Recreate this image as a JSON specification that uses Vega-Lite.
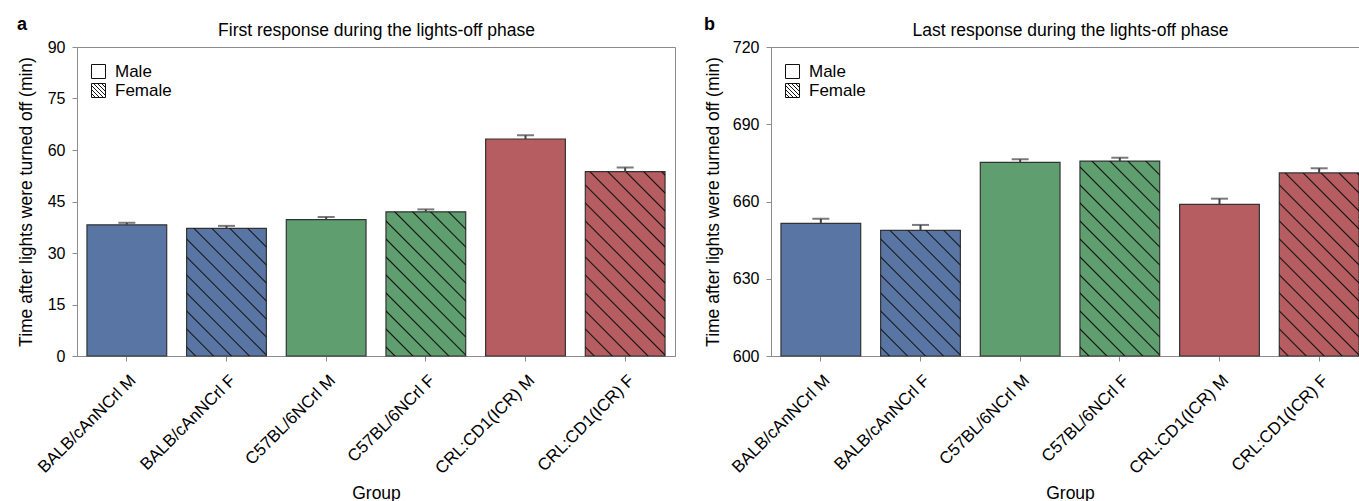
{
"$schema": "https://vega.github.io/schema/vega-lite/v6.json",
"autosize": {"type": "pad"},
"padding": {"left": 16, "top": 15, "right": 0, "bottom": 0},
"datasets": {
"first": [
{"group": "BALB/cAnNCrl M", "strain": "BALB/cAnNCrl", "sex": "Male", "value": 38.2, "upper": 38.8},
{"group": "BALB/cAnNCrl F", "strain": "BALB/cAnNCrl", "sex": "Female", "value": 37.2, "upper": 37.9},
{"group": "C57BL/6NCrl M", "strain": "C57BL/6NCrl", "sex": "Male", "value": 39.7, "upper": 40.5},
{"group": "C57BL/6NCrl F", "strain": "C57BL/6NCrl", "sex": "Female", "value": 42.0, "upper": 42.7},
{"group": "CRL:CD1(ICR) M", "strain": "CRL:CD1(ICR)", "sex": "Male", "value": 63.2, "upper": 64.3},
{"group": "CRL:CD1(ICR) F", "strain": "CRL:CD1(ICR)", "sex": "Female", "value": 53.7, "upper": 54.9}
],
"last": [
{"group": "BALB/cAnNCrl M", "strain": "BALB/cAnNCrl", "sex": "Male", "value": 651.5, "upper": 653.3},
{"group": "BALB/cAnNCrl F", "strain": "BALB/cAnNCrl", "sex": "Female", "value": 648.8, "upper": 650.9},
{"group": "C57BL/6NCrl M", "strain": "C57BL/6NCrl", "sex": "Male", "value": 675.2, "upper": 676.4},
{"group": "C57BL/6NCrl F", "strain": "C57BL/6NCrl", "sex": "Female", "value": 675.7, "upper": 677.0},
{"group": "CRL:CD1(ICR) M", "strain": "CRL:CD1(ICR)", "sex": "Male", "value": 658.9, "upper": 661.1},
{"group": "CRL:CD1(ICR) F", "strain": "CRL:CD1(ICR)", "sex": "Female", "value": 671.1, "upper": 672.9}
]
},
"bounds": "flush",
"spacing": 96,
"resolve": {"scale": {"x": "independent", "y": "independent", "fill": "independent", "shape": "independent"}, "legend": {"shape": "independent"}},
"hconcat": [
{
"width": 598, "height": 309,
"title": {"text": "a"},
"data": {"name": "first"},
"resolve": {"axis": {"x": "independent"}},
"layer": [
{
"mark": {"type": "bar", "strokeWidth": 1.2, "stroke": "#333333"},
"encoding": {
"x": {"field": "group", "type": "nominal", "sort": ["BALB/cAnNCrl M","BALB/cAnNCrl F","C57BL/6NCrl M","C57BL/6NCrl F","CRL:CD1(ICR) M","CRL:CD1(ICR) F"], "scale": {"paddingInner": 0.2, "paddingOuter": 0.1}, "title": "Group",
 "axis": {"orient": "bottom", "labelAngle": -45, "labelAlign": "right", "labelBaseline": "middle", "labelPadding": 16.5, "labelOffset": 6.5, "labelFontSize": 17, "labelOverlap": false, "titlePadding": 8}},
"y": {"field": "value", "type": "quantitative", "scale": {"domain": [0, 90], "nice": false}, "title": "Time after lights were turned off (min)",
 "axis": {"values": [0, 15, 30, 45, 60, 75, 90], "labelPadding": 7, "titleX": -42}},
"fill": {"field": "strain", "type": "nominal", "scale": {"domain": ["BALB/cAnNCrl", "C57BL/6NCrl", "CRL:CD1(ICR)"], "range": ["#5975a4", "#5f9e6e", "#b55d60"]}, "legend": null}
}
},
{
"transform": [{"filter": "datum.group === 'BALB/cAnNCrl F'"}],
"mark": {"type": "bar", "strokeWidth": 0, "fill": {"gradient": "linear", "x1": 0, "y1": 1, "x2": 0.73166, "y2": -0.16809, "stops": [
{"offset":0.03611,"color":"rgba(17,17,17,0)"},{"offset":0.04333,"color":"#111111"},{"offset":0.05055,"color":"rgba(17,17,17,0)"},
{"offset":0.12276,"color":"rgba(17,17,17,0)"},{"offset":0.12998,"color":"#111111"},{"offset":0.1372,"color":"rgba(17,17,17,0)"},
{"offset":0.20942,"color":"rgba(17,17,17,0)"},{"offset":0.21664,"color":"#111111"},{"offset":0.22386,"color":"rgba(17,17,17,0)"},
{"offset":0.29607,"color":"rgba(17,17,17,0)"},{"offset":0.30329,"color":"#111111"},{"offset":0.31051,"color":"rgba(17,17,17,0)"},
{"offset":0.38273,"color":"rgba(17,17,17,0)"},{"offset":0.38995,"color":"#111111"},{"offset":0.39717,"color":"rgba(17,17,17,0)"},
{"offset":0.46938,"color":"rgba(17,17,17,0)"},{"offset":0.4766,"color":"#111111"},{"offset":0.48383,"color":"rgba(17,17,17,0)"},
{"offset":0.55604,"color":"rgba(17,17,17,0)"},{"offset":0.56326,"color":"#111111"},{"offset":0.57048,"color":"rgba(17,17,17,0)"},
{"offset":0.6427,"color":"rgba(17,17,17,0)"},{"offset":0.64992,"color":"#111111"},{"offset":0.65714,"color":"rgba(17,17,17,0)"},
{"offset":0.72935,"color":"rgba(17,17,17,0)"},{"offset":0.73657,"color":"#111111"},{"offset":0.74379,"color":"rgba(17,17,17,0)"},
{"offset":0.81601,"color":"rgba(17,17,17,0)"},{"offset":0.82323,"color":"#111111"},{"offset":0.83045,"color":"rgba(17,17,17,0)"},
{"offset":0.90266,"color":"rgba(17,17,17,0)"},{"offset":0.90988,"color":"#111111"},{"offset":0.9171,"color":"rgba(17,17,17,0)"}]}},
"encoding": {
"x": {"field": "group", "type": "nominal", "sort": ["BALB/cAnNCrl M","BALB/cAnNCrl F","C57BL/6NCrl M","C57BL/6NCrl F","CRL:CD1(ICR) M","CRL:CD1(ICR) F"], "axis": null},
"y": {"field": "value", "type": "quantitative", "scale": {"domain": [0, 90], "nice": false}, "title": "Time after lights were turned off (min)", "axis": {"values": [0, 15, 30, 45, 60, 75, 90], "labelPadding": 7, "titleX": -42}}
}
},
{
"transform": [{"filter": "datum.group === 'C57BL/6NCrl F'"}],
"mark": {"type": "bar", "strokeWidth": 0, "fill": {"gradient": "linear", "x1": 0, "y1": 1, "x2": 0.65957, "y2": -0.18887, "stops": [
{"offset":0.03345,"color":"rgba(17,17,17,0)"},{"offset":0.04014,"color":"#111111"},{"offset":0.04683,"color":"rgba(17,17,17,0)"},
{"offset":0.11374,"color":"rgba(17,17,17,0)"},{"offset":0.12043,"color":"#111111"},{"offset":0.12712,"color":"rgba(17,17,17,0)"},
{"offset":0.19402,"color":"rgba(17,17,17,0)"},{"offset":0.20071,"color":"#111111"},{"offset":0.2074,"color":"rgba(17,17,17,0)"},
{"offset":0.27431,"color":"rgba(17,17,17,0)"},{"offset":0.281,"color":"#111111"},{"offset":0.28769,"color":"rgba(17,17,17,0)"},
{"offset":0.35459,"color":"rgba(17,17,17,0)"},{"offset":0.36128,"color":"#111111"},{"offset":0.36798,"color":"rgba(17,17,17,0)"},
{"offset":0.43488,"color":"rgba(17,17,17,0)"},{"offset":0.44157,"color":"#111111"},{"offset":0.44826,"color":"rgba(17,17,17,0)"},
{"offset":0.51516,"color":"rgba(17,17,17,0)"},{"offset":0.52186,"color":"#111111"},{"offset":0.52855,"color":"rgba(17,17,17,0)"},
{"offset":0.59545,"color":"rgba(17,17,17,0)"},{"offset":0.60214,"color":"#111111"},{"offset":0.60883,"color":"rgba(17,17,17,0)"},
{"offset":0.67574,"color":"rgba(17,17,17,0)"},{"offset":0.68243,"color":"#111111"},{"offset":0.68912,"color":"rgba(17,17,17,0)"},
{"offset":0.75602,"color":"rgba(17,17,17,0)"},{"offset":0.76271,"color":"#111111"},{"offset":0.7694,"color":"rgba(17,17,17,0)"},
{"offset":0.83631,"color":"rgba(17,17,17,0)"},{"offset":0.843,"color":"#111111"},{"offset":0.84969,"color":"rgba(17,17,17,0)"},
{"offset":0.91659,"color":"rgba(17,17,17,0)"},{"offset":0.92328,"color":"#111111"},{"offset":0.92997,"color":"rgba(17,17,17,0)"}]}},
"encoding": {
"x": {"field": "group", "type": "nominal", "sort": ["BALB/cAnNCrl M","BALB/cAnNCrl F","C57BL/6NCrl M","C57BL/6NCrl F","CRL:CD1(ICR) M","CRL:CD1(ICR) F"], "axis": null},
"y": {"field": "value", "type": "quantitative", "scale": {"domain": [0, 90], "nice": false}, "title": "Time after lights were turned off (min)", "axis": {"values": [0, 15, 30, 45, 60, 75, 90], "labelPadding": 7, "titleX": -42}}
}
},
{
"transform": [{"filter": "datum.group === 'CRL:CD1(ICR) F'"}],
"mark": {"type": "bar", "strokeWidth": 0, "fill": {"gradient": "linear", "x1": 0, "y1": 1, "x2": 0.52361, "y2": -0.20672, "stops": [
{"offset":0.02837,"color":"rgba(17,17,17,0)"},{"offset":0.03404,"color":"#111111"},{"offset":0.03972,"color":"rgba(17,17,17,0)"},
{"offset":0.09646,"color":"rgba(17,17,17,0)"},{"offset":0.10213,"color":"#111111"},{"offset":0.10781,"color":"rgba(17,17,17,0)"},
{"offset":0.16454,"color":"rgba(17,17,17,0)"},{"offset":0.17022,"color":"#111111"},{"offset":0.17589,"color":"rgba(17,17,17,0)"},
{"offset":0.23263,"color":"rgba(17,17,17,0)"},{"offset":0.23831,"color":"#111111"},{"offset":0.24398,"color":"rgba(17,17,17,0)"},
{"offset":0.30072,"color":"rgba(17,17,17,0)"},{"offset":0.30639,"color":"#111111"},{"offset":0.31207,"color":"rgba(17,17,17,0)"},
{"offset":0.36881,"color":"rgba(17,17,17,0)"},{"offset":0.37448,"color":"#111111"},{"offset":0.38015,"color":"rgba(17,17,17,0)"},
{"offset":0.43689,"color":"rgba(17,17,17,0)"},{"offset":0.44257,"color":"#111111"},{"offset":0.44824,"color":"rgba(17,17,17,0)"},
{"offset":0.50498,"color":"rgba(17,17,17,0)"},{"offset":0.51065,"color":"#111111"},{"offset":0.51633,"color":"rgba(17,17,17,0)"},
{"offset":0.57307,"color":"rgba(17,17,17,0)"},{"offset":0.57874,"color":"#111111"},{"offset":0.58441,"color":"rgba(17,17,17,0)"},
{"offset":0.64115,"color":"rgba(17,17,17,0)"},{"offset":0.64683,"color":"#111111"},{"offset":0.6525,"color":"rgba(17,17,17,0)"},
{"offset":0.70924,"color":"rgba(17,17,17,0)"},{"offset":0.71491,"color":"#111111"},{"offset":0.72059,"color":"rgba(17,17,17,0)"},
{"offset":0.77733,"color":"rgba(17,17,17,0)"},{"offset":0.783,"color":"#111111"},{"offset":0.78868,"color":"rgba(17,17,17,0)"},
{"offset":0.84541,"color":"rgba(17,17,17,0)"},{"offset":0.85109,"color":"#111111"},{"offset":0.85676,"color":"rgba(17,17,17,0)"},
{"offset":0.9135,"color":"rgba(17,17,17,0)"},{"offset":0.91918,"color":"#111111"},{"offset":0.92485,"color":"rgba(17,17,17,0)"},
{"offset":0.98159,"color":"rgba(17,17,17,0)"},{"offset":0.98726,"color":"#111111"},{"offset":0.99294,"color":"rgba(17,17,17,0)"}]}},
"encoding": {
"x": {"field": "group", "type": "nominal", "sort": ["BALB/cAnNCrl M","BALB/cAnNCrl F","C57BL/6NCrl M","C57BL/6NCrl F","CRL:CD1(ICR) M","CRL:CD1(ICR) F"], "axis": null},
"y": {"field": "value", "type": "quantitative", "scale": {"domain": [0, 90], "nice": false}, "title": "Time after lights were turned off (min)", "axis": {"values": [0, 15, 30, 45, 60, 75, 90], "labelPadding": 7, "titleX": -42}}
}
},
{
"mark": {"type": "rule", "strokeWidth": 2, "color": "#424242"},
"encoding": {
"x": {"field": "group", "type": "nominal", "sort": ["BALB/cAnNCrl M","BALB/cAnNCrl F","C57BL/6NCrl M","C57BL/6NCrl F","CRL:CD1(ICR) M","CRL:CD1(ICR) F"], "title": "First response during the lights-off phase",
 "axis": {"orient": "top", "labels": false, "ticks": false, "domain": false, "titlePadding": 8}},
"y": {"field": "value", "type": "quantitative", "scale": {"domain": [0, 90], "nice": false}, "title": "Time after lights were turned off (min)", "axis": {"values": [0, 15, 30, 45, 60, 75, 90], "labelPadding": 7, "titleX": -42}},
"y2": {"field": "upper"}
}
},
{
"mark": {"type": "tick", "thickness": 2, "size": 17, "color": "#424242"},
"encoding": {
"x": {"field": "group", "type": "nominal", "sort": ["BALB/cAnNCrl M","BALB/cAnNCrl F","C57BL/6NCrl M","C57BL/6NCrl F","CRL:CD1(ICR) M","CRL:CD1(ICR) F"], "axis": null},
"y": {"field": "upper", "type": "quantitative", "scale": {"domain": [0, 90], "nice": false}, "title": "Time after lights were turned off (min)", "axis": {"values": [0, 15, 30, 45, 60, 75, 90], "labelPadding": 7, "titleX": -42}}
}
},
{
"mark": {"type": "point", "opacity": 0, "filled": false, "color": "#111111", "size": 4},
"encoding": {
"x": {"field": "group", "type": "nominal", "sort": ["BALB/cAnNCrl M","BALB/cAnNCrl F","C57BL/6NCrl M","C57BL/6NCrl F","CRL:CD1(ICR) M","CRL:CD1(ICR) F"], "axis": null},
"y": {"field": "value", "type": "quantitative", "scale": {"domain": [0, 90], "nice": false}, "title": "Time after lights were turned off (min)", "axis": {"values": [0, 15, 30, 45, 60, 75, 90], "labelPadding": 7, "titleX": -42}},
"shape": {"field": "sex", "type": "nominal", "scale": {"domain": ["Male", "Female"], "range": ["square", "M-1,-1H1V1H-1Z M-1,0.43L-0.43,1 M-1,-0.14L0.14,1 M-1,-0.71L0.71,1 M-0.71,-1L1,0.71 M-0.14,-1L1,0.14 M0.43,-1L1,-0.43"]},
 "legend": {"orient": "none", "legendX": 13, "legendY": 16, "title": null, "padding": 0, "symbolSize": 196, "symbolStrokeColor": "#111111", "symbolStrokeWidth": 1, "symbolOpacity": 1, "symbolFillColor": "#ffffff", "labelFontSize": 17, "rowPadding": 0, "labelOffset": 8}}
}
}
]
},
{
"width": 598, "height": 309,
"title": {"text": "b"},
"data": {"name": "last"},
"resolve": {"axis": {"x": "independent"}},
"layer": [
{
"mark": {"type": "bar", "strokeWidth": 1.2, "stroke": "#333333"},
"encoding": {
"x": {"field": "group", "type": "nominal", "sort": ["BALB/cAnNCrl M","BALB/cAnNCrl F","C57BL/6NCrl M","C57BL/6NCrl F","CRL:CD1(ICR) M","CRL:CD1(ICR) F"], "scale": {"paddingInner": 0.2, "paddingOuter": 0.1}, "title": "Group",
 "axis": {"orient": "bottom", "labelAngle": -45, "labelAlign": "right", "labelBaseline": "middle", "labelPadding": 16.5, "labelOffset": 6.5, "labelFontSize": 17, "labelOverlap": false, "titlePadding": 8}},
"y": {"field": "value", "type": "quantitative", "scale": {"domain": [600, 720], "nice": false, "zero": false}, "title": "Time after lights were turned off (min)",
 "axis": {"values": [600, 630, 660, 690, 720], "labelPadding": 7, "titleX": -49}},
"y2": {"datum": 600},
"fill": {"field": "strain", "type": "nominal", "scale": {"domain": ["BALB/cAnNCrl", "C57BL/6NCrl", "CRL:CD1(ICR)"], "range": ["#5975a4", "#5f9e6e", "#b55d60"]}, "legend": null}
}
},
{
"transform": [{"filter": "datum.group === 'BALB/cAnNCrl F'"}],
"mark": {"type": "bar", "strokeWidth": 0, "fill": {"gradient": "linear", "x1": 0, "y1": 1, "x2": 0.74144, "y2": -0.16462, "stops": [
{"offset":0.03647,"color":"rgba(17,17,17,0)"},{"offset":0.04376,"color":"#111111"},{"offset":0.05106,"color":"rgba(17,17,17,0)"},
{"offset":0.12399,"color":"rgba(17,17,17,0)"},{"offset":0.13128,"color":"#111111"},{"offset":0.13858,"color":"rgba(17,17,17,0)"},
{"offset":0.21151,"color":"rgba(17,17,17,0)"},{"offset":0.21881,"color":"#111111"},{"offset":0.2261,"color":"rgba(17,17,17,0)"},
{"offset":0.29904,"color":"rgba(17,17,17,0)"},{"offset":0.30633,"color":"#111111"},{"offset":0.31362,"color":"rgba(17,17,17,0)"},
{"offset":0.38656,"color":"rgba(17,17,17,0)"},{"offset":0.39385,"color":"#111111"},{"offset":0.40115,"color":"rgba(17,17,17,0)"},
{"offset":0.47408,"color":"rgba(17,17,17,0)"},{"offset":0.48138,"color":"#111111"},{"offset":0.48867,"color":"rgba(17,17,17,0)"},
{"offset":0.56161,"color":"rgba(17,17,17,0)"},{"offset":0.5689,"color":"#111111"},{"offset":0.57619,"color":"rgba(17,17,17,0)"},
{"offset":0.64913,"color":"rgba(17,17,17,0)"},{"offset":0.65642,"color":"#111111"},{"offset":0.66372,"color":"rgba(17,17,17,0)"},
{"offset":0.73665,"color":"rgba(17,17,17,0)"},{"offset":0.74395,"color":"#111111"},{"offset":0.75124,"color":"rgba(17,17,17,0)"},
{"offset":0.82418,"color":"rgba(17,17,17,0)"},{"offset":0.83147,"color":"#111111"},{"offset":0.83876,"color":"rgba(17,17,17,0)"},
{"offset":0.9117,"color":"rgba(17,17,17,0)"},{"offset":0.91899,"color":"#111111"},{"offset":0.92629,"color":"rgba(17,17,17,0)"}]}},
"encoding": {
"x": {"field": "group", "type": "nominal", "sort": ["BALB/cAnNCrl M","BALB/cAnNCrl F","C57BL/6NCrl M","C57BL/6NCrl F","CRL:CD1(ICR) M","CRL:CD1(ICR) F"], "axis": null},
"y": {"field": "value", "type": "quantitative", "scale": {"domain": [600, 720], "nice": false, "zero": false}, "title": "Time after lights were turned off (min)", "axis": {"values": [600, 630, 660, 690, 720], "labelPadding": 7, "titleX": -49}},
"y2": {"datum": 600}
}
},
{
"transform": [{"filter": "datum.group === 'C57BL/6NCrl F'"}],
"mark": {"type": "bar", "strokeWidth": 0, "fill": {"gradient": "linear", "x1": 0, "y1": 1, "x2": 0.4954, "y2": -0.2071, "stops": [
{"offset":0.02728,"color":"rgba(17,17,17,0)"},{"offset":0.03274,"color":"#111111"},{"offset":0.03819,"color":"rgba(17,17,17,0)"},
{"offset":0.09275,"color":"rgba(17,17,17,0)"},{"offset":0.09821,"color":"#111111"},{"offset":0.10366,"color":"rgba(17,17,17,0)"},
{"offset":0.15822,"color":"rgba(17,17,17,0)"},{"offset":0.16368,"color":"#111111"},{"offset":0.16913,"color":"rgba(17,17,17,0)"},
{"offset":0.22369,"color":"rgba(17,17,17,0)"},{"offset":0.22915,"color":"#111111"},{"offset":0.23461,"color":"rgba(17,17,17,0)"},
{"offset":0.28916,"color":"rgba(17,17,17,0)"},{"offset":0.29462,"color":"#111111"},{"offset":0.30008,"color":"rgba(17,17,17,0)"},
{"offset":0.35464,"color":"rgba(17,17,17,0)"},{"offset":0.36009,"color":"#111111"},{"offset":0.36555,"color":"rgba(17,17,17,0)"},
{"offset":0.42011,"color":"rgba(17,17,17,0)"},{"offset":0.42556,"color":"#111111"},{"offset":0.43102,"color":"rgba(17,17,17,0)"},
{"offset":0.48558,"color":"rgba(17,17,17,0)"},{"offset":0.49103,"color":"#111111"},{"offset":0.49649,"color":"rgba(17,17,17,0)"},
{"offset":0.55105,"color":"rgba(17,17,17,0)"},{"offset":0.5565,"color":"#111111"},{"offset":0.56196,"color":"rgba(17,17,17,0)"},
{"offset":0.61652,"color":"rgba(17,17,17,0)"},{"offset":0.62198,"color":"#111111"},{"offset":0.62743,"color":"rgba(17,17,17,0)"},
{"offset":0.68199,"color":"rgba(17,17,17,0)"},{"offset":0.68745,"color":"#111111"},{"offset":0.6929,"color":"rgba(17,17,17,0)"},
{"offset":0.74746,"color":"rgba(17,17,17,0)"},{"offset":0.75292,"color":"#111111"},{"offset":0.75837,"color":"rgba(17,17,17,0)"},
{"offset":0.81293,"color":"rgba(17,17,17,0)"},{"offset":0.81839,"color":"#111111"},{"offset":0.82384,"color":"rgba(17,17,17,0)"},
{"offset":0.8784,"color":"rgba(17,17,17,0)"},{"offset":0.88386,"color":"#111111"},{"offset":0.88932,"color":"rgba(17,17,17,0)"},
{"offset":0.94387,"color":"rgba(17,17,17,0)"},{"offset":0.94933,"color":"#111111"},{"offset":0.95479,"color":"rgba(17,17,17,0)"}]}},
"encoding": {
"x": {"field": "group", "type": "nominal", "sort": ["BALB/cAnNCrl M","BALB/cAnNCrl F","C57BL/6NCrl M","C57BL/6NCrl F","CRL:CD1(ICR) M","CRL:CD1(ICR) F"], "axis": null},
"y": {"field": "value", "type": "quantitative", "scale": {"domain": [600, 720], "nice": false, "zero": false}, "title": "Time after lights were turned off (min)", "axis": {"values": [600, 630, 660, 690, 720], "labelPadding": 7, "titleX": -49}},
"y2": {"datum": 600}
}
},
{
"transform": [{"filter": "datum.group === 'CRL:CD1(ICR) F'"}],
"mark": {"type": "bar", "strokeWidth": 0, "fill": {"gradient": "linear", "x1": 0, "y1": 1, "x2": 0.52724, "y2": -0.20659, "stops": [
{"offset":0.02851,"color":"rgba(17,17,17,0)"},{"offset":0.03421,"color":"#111111"},{"offset":0.03991,"color":"rgba(17,17,17,0)"},
{"offset":0.09693,"color":"rgba(17,17,17,0)"},{"offset":0.10263,"color":"#111111"},{"offset":0.10833,"color":"rgba(17,17,17,0)"},
{"offset":0.16535,"color":"rgba(17,17,17,0)"},{"offset":0.17105,"color":"#111111"},{"offset":0.17675,"color":"rgba(17,17,17,0)"},
{"offset":0.23377,"color":"rgba(17,17,17,0)"},{"offset":0.23947,"color":"#111111"},{"offset":0.24517,"color":"rgba(17,17,17,0)"},
{"offset":0.30219,"color":"rgba(17,17,17,0)"},{"offset":0.30789,"color":"#111111"},{"offset":0.31359,"color":"rgba(17,17,17,0)"},
{"offset":0.37061,"color":"rgba(17,17,17,0)"},{"offset":0.37631,"color":"#111111"},{"offset":0.38201,"color":"rgba(17,17,17,0)"},
{"offset":0.43903,"color":"rgba(17,17,17,0)"},{"offset":0.44473,"color":"#111111"},{"offset":0.45043,"color":"rgba(17,17,17,0)"},
{"offset":0.50745,"color":"rgba(17,17,17,0)"},{"offset":0.51315,"color":"#111111"},{"offset":0.51885,"color":"rgba(17,17,17,0)"},
{"offset":0.57587,"color":"rgba(17,17,17,0)"},{"offset":0.58157,"color":"#111111"},{"offset":0.58727,"color":"rgba(17,17,17,0)"},
{"offset":0.64429,"color":"rgba(17,17,17,0)"},{"offset":0.64999,"color":"#111111"},{"offset":0.65569,"color":"rgba(17,17,17,0)"},
{"offset":0.71271,"color":"rgba(17,17,17,0)"},{"offset":0.71841,"color":"#111111"},{"offset":0.72411,"color":"rgba(17,17,17,0)"},
{"offset":0.78113,"color":"rgba(17,17,17,0)"},{"offset":0.78683,"color":"#111111"},{"offset":0.79253,"color":"rgba(17,17,17,0)"},
{"offset":0.84955,"color":"rgba(17,17,17,0)"},{"offset":0.85525,"color":"#111111"},{"offset":0.86095,"color":"rgba(17,17,17,0)"},
{"offset":0.91797,"color":"rgba(17,17,17,0)"},{"offset":0.92367,"color":"#111111"},{"offset":0.92937,"color":"rgba(17,17,17,0)"},
{"offset":0.98639,"color":"rgba(17,17,17,0)"},{"offset":0.99209,"color":"#111111"},{"offset":0.99779,"color":"rgba(17,17,17,0)"}]}},
"encoding": {
"x": {"field": "group", "type": "nominal", "sort": ["BALB/cAnNCrl M","BALB/cAnNCrl F","C57BL/6NCrl M","C57BL/6NCrl F","CRL:CD1(ICR) M","CRL:CD1(ICR) F"], "axis": null},
"y": {"field": "value", "type": "quantitative", "scale": {"domain": [600, 720], "nice": false, "zero": false}, "title": "Time after lights were turned off (min)", "axis": {"values": [600, 630, 660, 690, 720], "labelPadding": 7, "titleX": -49}},
"y2": {"datum": 600}
}
},
{
"mark": {"type": "rule", "strokeWidth": 2, "color": "#424242"},
"encoding": {
"x": {"field": "group", "type": "nominal", "sort": ["BALB/cAnNCrl M","BALB/cAnNCrl F","C57BL/6NCrl M","C57BL/6NCrl F","CRL:CD1(ICR) M","CRL:CD1(ICR) F"], "title": "Last response during the lights-off phase",
 "axis": {"orient": "top", "labels": false, "ticks": false, "domain": false, "titlePadding": 8}},
"y": {"field": "value", "type": "quantitative", "scale": {"domain": [600, 720], "nice": false, "zero": false}, "title": "Time after lights were turned off (min)", "axis": {"values": [600, 630, 660, 690, 720], "labelPadding": 7, "titleX": -49}},
"y2": {"field": "upper"}
}
},
{
"mark": {"type": "tick", "thickness": 2, "size": 17, "color": "#424242"},
"encoding": {
"x": {"field": "group", "type": "nominal", "sort": ["BALB/cAnNCrl M","BALB/cAnNCrl F","C57BL/6NCrl M","C57BL/6NCrl F","CRL:CD1(ICR) M","CRL:CD1(ICR) F"], "axis": null},
"y": {"field": "upper", "type": "quantitative", "scale": {"domain": [600, 720], "nice": false, "zero": false}, "title": "Time after lights were turned off (min)", "axis": {"values": [600, 630, 660, 690, 720], "labelPadding": 7, "titleX": -49}}
}
},
{
"mark": {"type": "point", "opacity": 0, "filled": false, "color": "#111111", "size": 4},
"encoding": {
"x": {"field": "group", "type": "nominal", "sort": ["BALB/cAnNCrl M","BALB/cAnNCrl F","C57BL/6NCrl M","C57BL/6NCrl F","CRL:CD1(ICR) M","CRL:CD1(ICR) F"], "axis": null},
"y": {"field": "value", "type": "quantitative", "scale": {"domain": [600, 720], "nice": false, "zero": false}, "title": "Time after lights were turned off (min)", "axis": {"values": [600, 630, 660, 690, 720], "labelPadding": 7, "titleX": -49}},
"shape": {"field": "sex", "type": "nominal", "scale": {"domain": ["Male", "Female"], "range": ["square", "M-1,-1H1V1H-1Z M-1,0.43L-0.43,1 M-1,-0.14L0.14,1 M-1,-0.71L0.71,1 M-0.71,-1L1,0.71 M-0.14,-1L1,0.14 M0.43,-1L1,-0.43"]},
 "legend": {"orient": "none", "legendX": 13, "legendY": 16, "title": null, "padding": 0, "symbolSize": 196, "symbolStrokeColor": "#111111", "symbolStrokeWidth": 1, "symbolOpacity": 1, "symbolFillColor": "#ffffff", "labelFontSize": 17, "rowPadding": 0, "labelOffset": 8}}
}
}
]
}
],
"config": {
"font": "Liberation Sans",
"view": {"stroke": "#8c8c8c", "strokeWidth": 1},
"axis": {"domainColor": "#8c8c8c", "tickColor": "#8c8c8c", "labelColor": "#000000", "titleColor": "#000000", "grid": false, "labelFontSize": 16, "titleFontSize": 17.5, "titleFontWeight": "normal", "tickSize": 5, "labelFont": "Liberation Sans", "titleFont": "Liberation Sans"},
"legend": {"labelColor": "#000000", "labelFont": "Liberation Sans"},
"title": {"fontSize": 18, "fontWeight": "bold", "anchor": "start", "frame": "bounds", "offset": -13, "color": "#000000", "font": "Liberation Sans"}
}
}
